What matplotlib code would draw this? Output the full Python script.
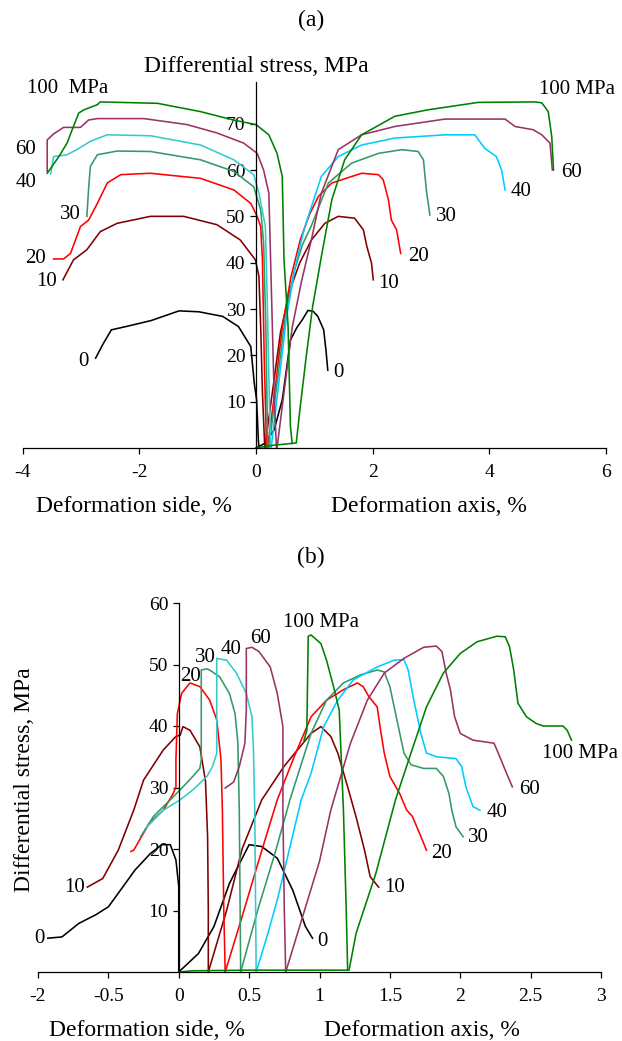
import matplotlib
import matplotlib.pyplot as plt

matplotlib.use('Agg')

# ---------- panel (a): deformation curves at confining pressure ----------
A0_SIDE_X = [-2.75, -2.62, -2.48, -2.20, -1.80, -1.32, -0.98, -0.57, -0.30, -0.09, -0.03, 0.01, 0.04, 0.05]
A0_SIDE_Y = [19.4, 22.5, 25.5, 26.3, 27.5, 29.6, 29.4, 28.4, 26.2, 21.9, 14.0, 10.4, 1.7, 0.0]
A0_AXIS_X = [0.0, 0.15, 0.31, 0.45, 0.59, 0.70, 0.79, 0.89, 0.98, 1.06, 1.16, 1.20, 1.23]
A0_AXIS_Y = [0.0, 1.0, 3.9, 10.4, 23.3, 26.0, 27.6, 29.7, 29.5, 28.4, 25.5, 21.0, 16.8]

A10_SIDE_X = [-3.31, -3.13, -2.90, -2.67, -2.38, -1.81, -1.24, -0.67, -0.27, -0.01, 0.05, 0.08, 0.11, 0.15]
A10_SIDE_Y = [36.3, 40.6, 42.8, 46.7, 48.5, 50.0, 50.0, 48.2, 44.9, 40.6, 37.0, 26.2, 12.0, 0.0]
A10_AXIS_X = [0.15, 0.28, 0.42, 0.58, 0.75, 0.95, 1.18, 1.41, 1.69, 1.84, 1.90, 1.98, 2.01]
A10_AXIS_Y = [0.0, 12.0, 25.0, 34.0, 40.0, 44.9, 48.5, 50.0, 49.6, 47.1, 43.5, 39.9, 36.3]

A20_SIDE_X = [-3.47, -3.30, -3.18, -3.01, -2.87, -2.72, -2.55, -2.32, -1.81, -0.95, -0.38, -0.09, 0.02, 0.08, 0.11, 0.14, 0.18]
A20_SIDE_Y = [40.8, 40.8, 42.0, 47.8, 49.2, 52.8, 57.2, 59.0, 59.3, 58.2, 55.7, 52.8, 50.0, 47.8, 40.6, 20.0, 0.0]
A20_AXIS_X = [0.20, 0.32, 0.45, 0.60, 0.76, 0.92, 1.07, 1.30, 1.81, 2.10, 2.18, 2.27, 2.32, 2.41, 2.48]
A20_AXIS_Y = [0.0, 12.0, 26.0, 37.0, 45.0, 50.5, 54.3, 57.2, 59.3, 59.0, 57.9, 53.6, 49.2, 47.1, 42.0]

A30_SIDE_X = [-2.90, -2.87, -2.84, -2.72, -2.38, -1.81, -0.95, -0.38, -0.04, 0.08, 0.13, 0.17, 0.20]
A30_SIDE_Y = [50.0, 56.0, 60.8, 63.3, 64.1, 64.0, 62.2, 59.7, 56.4, 51.4, 44.3, 25.0, 0.0]
A30_AXIS_X = [0.22, 0.35, 0.50, 0.65, 0.80, 0.95, 1.24, 1.64, 2.10, 2.50, 2.78, 2.87, 2.92, 2.98]
A30_AXIS_Y = [0.0, 13.0, 28.0, 38.0, 44.0, 48.0, 57.2, 61.5, 63.6, 64.4, 64.0, 62.2, 55.7, 50.3]

A40_SIDE_X = [-3.52, -3.47, -3.24, -3.07, -2.84, -2.55, -1.81, -0.95, -0.38, -0.04, 0.05, 0.16, 0.19, 0.22, 0.25]
A40_SIDE_Y = [59.2, 62.9, 63.3, 64.4, 66.2, 67.6, 67.4, 65.4, 62.2, 59.0, 55.0, 47.8, 33.4, 15.0, 0.0]
A40_AXIS_X = [0.26, 0.38, 0.52, 0.67, 0.82, 0.95, 1.12, 1.41, 1.81, 2.38, 3.24, 3.75, 3.92, 4.12, 4.21, 4.27]
A40_AXIS_Y = [0.0, 13.0, 28.0, 39.0, 47.0, 52.1, 58.6, 62.9, 65.4, 66.9, 67.6, 67.6, 64.7, 62.9, 60.0, 55.7]

A60_SIDE_X = [-3.58, -3.58, -3.47, -3.30, -3.01, -2.87, -2.72, -1.92, -1.18, -0.67, -0.21, 0.02, 0.13, 0.22, 0.25, 0.31, 0.35]
A60_SIDE_Y = [59.7, 66.5, 67.8, 69.2, 69.2, 70.8, 71.1, 71.1, 69.8, 68.0, 65.8, 63.6, 60.0, 55.0, 40.6, 11.8, 0.0]
A60_AXIS_X = [0.36, 0.48, 0.62, 0.78, 0.95, 1.12, 1.41, 1.81, 2.38, 3.24, 4.27, 4.44, 4.75, 4.90, 5.04, 5.08]
A60_AXIS_Y = [0.0, 12.0, 26.0, 36.0, 45.0, 55.0, 64.4, 67.6, 69.4, 71.0, 71.0, 69.4, 68.7, 67.6, 65.8, 60.0]

A100_SIDE_X = [-3.58, -3.38, -3.24, -3.13, -3.04, -2.95, -2.72, -2.67, -1.69, -0.95, -0.39, 0.0, 0.22, 0.36, 0.45, 0.48, 0.55, 0.59, 0.62]
A100_SIDE_Y = [59.3, 62.9, 65.8, 69.4, 72.3, 73.0, 74.1, 74.7, 74.4, 72.6, 70.8, 69.8, 67.6, 63.6, 58.6, 40.6, 26.2, 4.6, 1.0]
A100_AXIS_X = [0.0, 0.30, 0.62, 0.69, 0.75, 0.86, 0.97, 1.12, 1.30, 1.52, 1.81, 2.38, 2.95, 3.81, 4.78, 4.90, 5.01, 5.07, 5.10]
A100_AXIS_Y = [0.0, 0.6, 1.0, 1.1, 8.0, 19.7, 30.5, 41.3, 53.6, 62.2, 67.6, 71.6, 73.0, 74.6, 74.7, 74.5, 72.6, 67.2, 60.0]

# ---------- panel (b) ----------
B0_SIDE_X = [-0.93, -0.83, -0.71, -0.59, -0.50, -0.43, -0.31, -0.20, -0.12, -0.06, -0.02, 0.0, 0.0]
B0_SIDE_Y = [5.5, 5.7, 7.9, 9.3, 10.6, 12.8, 16.6, 19.3, 20.7, 20.7, 18.2, 13.9, 0.0]
B0_AXIS_X = [0.0, 0.14, 0.25, 0.36, 0.48, 0.50, 0.59, 0.70, 0.81, 0.90, 0.95]
B0_AXIS_Y = [0.0, 3.0, 7.4, 14.4, 19.8, 20.7, 20.4, 18.5, 13.3, 7.4, 5.5]

B10_SIDE_X = [-0.65, -0.54, -0.43, -0.32, -0.25, -0.11, -0.02, 0.01, 0.03, 0.08, 0.15, 0.19, 0.205, 0.21, 0.21]
B10_SIDE_Y = [13.8, 15.2, 19.8, 26.3, 31.2, 36.1, 38.3, 38.5, 39.9, 39.3, 36.6, 31.0, 22.0, 10.0, 0.0]
B10_AXIS_X = [0.21, 0.34, 0.45, 0.59, 0.75, 0.94, 1.01, 1.08, 1.13, 1.20, 1.26, 1.32, 1.36, 1.42]
B10_AXIS_Y = [0.0, 10.0, 20.0, 28.0, 33.5, 38.8, 39.9, 38.3, 35.6, 30.1, 25.2, 19.8, 15.5, 13.8]

B20_SIDE_X = [-0.34, -0.32, -0.21, -0.11, -0.04, -0.02, -0.02, -0.01, 0.02, 0.08, 0.15, 0.22, 0.27, 0.30, 0.31, 0.32, 0.33]
B20_SIDE_Y = [19.6, 19.8, 24.2, 26.3, 29.0, 30.1, 34.5, 42.0, 45.3, 47.0, 46.4, 44.2, 41.0, 34.5, 26.3, 10.0, 0.0]
B20_AXIS_X = [0.33, 0.45, 0.58, 0.70, 0.82, 0.94, 1.05, 1.17, 1.27, 1.31, 1.35, 1.41, 1.43, 1.46, 1.50, 1.57, 1.62, 1.66, 1.71, 1.76]
B20_AXIS_Y = [0.0, 9.0, 19.0, 28.0, 35.0, 41.5, 44.2, 45.9, 47.0, 46.4, 44.8, 43.1, 39.9, 35.6, 31.8, 29.0, 26.3, 25.3, 22.6, 19.8]

B30_SIDE_X = [-0.27, -0.18, -0.06, 0.03, 0.10, 0.15, 0.16, 0.16, 0.20, 0.22, 0.29, 0.36, 0.40, 0.42, 0.43, 0.44]
B30_SIDE_Y = [22.0, 25.3, 28.0, 30.1, 31.8, 33.1, 34.5, 49.1, 49.3, 49.1, 48.0, 45.3, 42.0, 37.2, 26.3, 0.0]
B30_AXIS_X = [0.44, 0.56, 0.68, 0.79, 0.94, 1.05, 1.17, 1.29, 1.41, 1.46, 1.50, 1.55, 1.60, 1.65, 1.74, 1.83, 1.88, 1.92, 1.94, 1.97, 2.02]
B30_AXIS_Y = [0.0, 10.0, 19.0, 28.0, 38.8, 44.2, 47.0, 48.3, 49.1, 48.8, 46.4, 41.0, 35.6, 33.7, 33.1, 33.1, 31.8, 29.0, 26.3, 23.6, 22.0]

B40_SIDE_X = [-0.23, -0.11, 0.01, 0.10, 0.20, 0.24, 0.27, 0.27, 0.27, 0.34, 0.41, 0.48, 0.52, 0.53, 0.54, 0.55]
B40_SIDE_Y = [23.5, 26.3, 28.0, 29.6, 31.8, 33.4, 35.6, 39.9, 51.0, 50.7, 48.6, 45.3, 41.5, 36.6, 26.3, 0.0]
B40_AXIS_X = [0.55, 0.63, 0.70, 0.87, 0.94, 1.03, 1.13, 1.24, 1.41, 1.53, 1.60, 1.63, 1.67, 1.72, 1.76, 1.83, 1.97, 2.01, 2.04, 2.09, 2.14]
B40_AXIS_Y = [0.0, 6.0, 11.7, 28.0, 32.3, 39.9, 44.2, 47.5, 49.6, 50.7, 50.8, 49.1, 44.2, 38.8, 35.6, 35.0, 34.7, 33.4, 30.1, 26.9, 26.3]

B60_SIDE_X = [0.33, 0.39, 0.43, 0.47, 0.48, 0.48, 0.52, 0.57, 0.65, 0.70, 0.74, 0.74, 0.75, 0.76]
B60_SIDE_Y = [29.9, 30.9, 33.4, 37.2, 42.6, 52.6, 52.8, 52.1, 49.6, 45.3, 39.9, 26.3, 10.0, 0.0]
B60_AXIS_X = [0.76, 0.88, 1.00, 1.08, 1.22, 1.34, 1.46, 1.60, 1.74, 1.83, 1.87, 1.90, 1.93, 1.96, 2.00, 2.09, 2.24, 2.27, 2.32, 2.37]
B60_AXIS_Y = [0.0, 9.0, 18.0, 26.3, 37.2, 44.2, 48.6, 51.0, 52.8, 53.0, 52.1, 48.6, 45.9, 41.5, 38.8, 37.7, 37.2, 35.6, 32.8, 30.1]

B100_SIDE_X = [0.89, 0.91, 0.92, 0.94, 1.01, 1.05, 1.10, 1.14, 1.15, 1.17, 1.19, 1.20]
B100_SIDE_Y = [37.7, 39.3, 54.6, 54.8, 53.4, 50.7, 46.4, 42.6, 37.2, 26.3, 10.0, 0.3]
B100_AXIS_X = [0.0, 0.10, 0.50, 1.00, 1.21, 1.26, 1.40, 1.54, 1.65, 1.76, 1.88, 2.00, 2.12, 2.26, 2.32, 2.35, 2.38, 2.41, 2.47, 2.54, 2.59, 2.73, 2.76, 2.79]
B100_AXIS_Y = [0.0, 0.2, 0.3, 0.3, 0.3, 6.3, 16.0, 28.0, 35.6, 43.1, 48.6, 51.8, 53.7, 54.6, 54.5, 52.9, 49.1, 43.7, 41.5, 40.4, 40.0, 40.0, 39.3, 37.7]

B_XTICKS = [-1, -0.5, 0, 0.5, 1, 1.5, 2, 2.5, 3]
B_XTICKLABELS = ['-2', '-0.5', '0', '0.5', '1', '1.5', '2', '2.5', '3']

BLACK = '#000000'
DARKRED = '#800000'
RED = '#FF0000'
SEAGREEN = '#339966'
TURQ = '#33CCCC'
SKY = '#00CCFF'
PLUM = '#993366'
GREEN = '#008000'

plt.rcParams['font.family'] = ['Liberation Serif', 'DejaVu Serif']
plt.rcParams['axes.unicode_minus'] = False

W, H = 622, 1041
fig = plt.figure(figsize=(W / 100, H / 100), dpi=100)


def style_axes(ax):
    ax.spines['top'].set_visible(False)
    ax.spines['right'].set_visible(False)
    ax.spines['left'].set_position(('data', 0))
    for s in ('left', 'bottom'):
        ax.spines[s].set_linewidth(0.9)
    ax.tick_params(direction='out', length=4.5, width=0.9, labelsize=14)
    ax.tick_params(axis='x', pad=7)
    ax.tick_params(axis='y', pad=3)
    ax.patch.set_alpha(0)


lw = 1.15

# panel (a)
ax1 = fig.add_axes([22.7 / W, 1 - 448 / H, 583.3 / W, 366 / H])
style_axes(ax1)
ax1.set_xlim(-4, 6)
ax1.set_ylim(0, 79)
ax1.set_xticks([-4, -2, 0, 2, 4, 6])
ax1.set_yticks([10, 20, 30, 40, 50, 60, 70])

curves_a = [
    (A0_SIDE_X, A0_SIDE_Y, BLACK), (A0_AXIS_X, A0_AXIS_Y, BLACK),
    (A10_SIDE_X, A10_SIDE_Y, DARKRED), (A10_AXIS_X, A10_AXIS_Y, DARKRED),
    (A20_SIDE_X, A20_SIDE_Y, RED), (A20_AXIS_X, A20_AXIS_Y, RED),
    (A30_SIDE_X, A30_SIDE_Y, SEAGREEN), (A30_AXIS_X, A30_AXIS_Y, SEAGREEN),
    (A40_SIDE_X, A40_SIDE_Y, TURQ), (A40_AXIS_X, A40_AXIS_Y, SKY),
    (A60_SIDE_X, A60_SIDE_Y, PLUM), (A60_AXIS_X, A60_AXIS_Y, PLUM),
    (A100_SIDE_X, A100_SIDE_Y, GREEN), (A100_AXIS_X, A100_AXIS_Y, GREEN),
]
for xs, ys, c in curves_a:
    ax1.plot(xs, ys, color=c, linewidth=lw, clip_on=False)

lab = dict(fontsize=15, ha='center', va='center')
ax1.text(-3.23, 77.5, '100  MPa', **lab)
ax1.text(-3.95, 64.4, '60', **lab)
ax1.text(-3.95, 57.2, '40', **lab)
ax1.text(-3.18, 50.3, '30', **lab)
ax1.text(-3.78, 40.8, '20', **lab)
ax1.text(-3.59, 35.9, '10', **lab)
ax1.text(-2.96, 18.6, '0', **lab)
ax1.text(5.51, 77.3, '100 MPa', **lab)
ax1.text(5.41, 59.4, '60', **lab)
ax1.text(4.54, 55.3, '40', **lab)
ax1.text(3.27, 49.9, '30', **lab)
ax1.text(2.79, 41.3, '20', **lab)
ax1.text(2.27, 35.6, '10', **lab)
ax1.text(1.42, 16.2, '0', **lab)

fig.text(311 / W, 1 - 20 / H, '(a)', fontsize=17, ha='center', va='center')
fig.text(256 / W, 1 - 66 / H, 'Differential stress, MPa', fontsize=17, ha='center', va='center')
fig.text(134 / W, 1 - 507 / H, 'Deformation side, %', fontsize=17, ha='center', va='center')
fig.text(429 / W, 1 - 507 / H, 'Deformation axis, %', fontsize=17, ha='center', va='center')

# panel (b)
ax2 = fig.add_axes([38 / W, 1 - 972 / H, 563 / W, 369 / H])
style_axes(ax2)
ax2.set_xlim(-1, 3)
ax2.set_ylim(0, 60)
ax2.set_xticks(B_XTICKS)
ax2.set_xticklabels(B_XTICKLABELS)
ax2.set_yticks([10, 20, 30, 40, 50, 60])

curves_b = [
    (B0_SIDE_X, B0_SIDE_Y, BLACK), (B0_AXIS_X, B0_AXIS_Y, BLACK),
    (B10_SIDE_X, B10_SIDE_Y, DARKRED), (B10_AXIS_X, B10_AXIS_Y, DARKRED),
    (B20_SIDE_X, B20_SIDE_Y, RED), (B20_AXIS_X, B20_AXIS_Y, RED),
    (B30_SIDE_X, B30_SIDE_Y, SEAGREEN), (B30_AXIS_X, B30_AXIS_Y, SEAGREEN),
    (B40_SIDE_X, B40_SIDE_Y, TURQ), (B40_AXIS_X, B40_AXIS_Y, SKY),
    (B60_SIDE_X, B60_SIDE_Y, PLUM), (B60_AXIS_X, B60_AXIS_Y, PLUM),
    (B100_SIDE_X, B100_SIDE_Y, GREEN), (B100_AXIS_X, B100_AXIS_Y, GREEN),
]
for xs, ys, c in curves_b:
    ax2.plot(xs, ys, color=c, linewidth=lw, clip_on=False)

ax2.text(-0.99, 5.5, '0', **lab)
ax2.text(-0.74, 13.7, '10', **lab)
ax2.text(0.08, 48.0, '20', **lab)
ax2.text(0.19, 51.2, '30', **lab)
ax2.text(0.37, 52.4, '40', **lab)
ax2.text(0.58, 54.3, '60', **lab)
ax2.text(1.01, 56.9, '100 MPa', **lab)
ax2.text(2.85, 35.6, '100 MPa', **lab)
ax2.text(2.49, 29.6, '60', **lab)
ax2.text(2.26, 25.9, '40', **lab)
ax2.text(2.13, 21.8, '30', **lab)
ax2.text(1.87, 19.3, '20', **lab)
ax2.text(1.53, 13.7, '10', **lab)
ax2.text(1.02, 4.9, '0', **lab)

fig.text(311 / W, 1 - 557 / H, '(b)', fontsize=17, ha='center', va='center')
fig.text(24 / W, 1 - 780 / H, 'Differential stress, MPa', fontsize=17, ha='center', va='center', rotation=90)
fig.text(147 / W, 1 - 1030 / H, 'Deformation side, %', fontsize=17, ha='center', va='center')
fig.text(422 / W, 1 - 1030 / H, 'Deformation axis, %', fontsize=17, ha='center', va='center')

fig.savefig('out.png', dpi=100, facecolor='white')
plt.close(fig)
